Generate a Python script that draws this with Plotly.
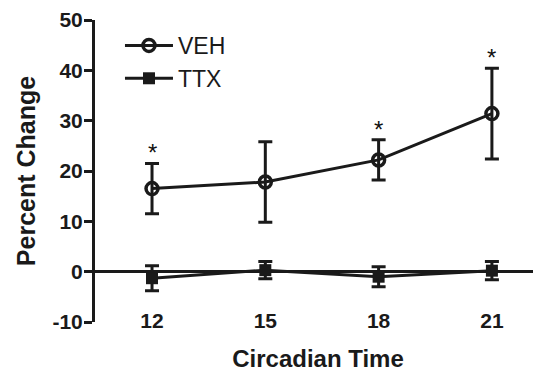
import plotly.graph_objects as go

ct = [12, 15, 18, 21]
veh = [16.5, 17.8, 22.2, 31.4]
veh_err = [5.0, 8.0, 4.0, 9.0]
ttx = [-1.3, 0.3, -1.0, 0.2]
ttx_err = [2.5, 1.7, 2.0, 1.8]
sig_x = [12, 18, 21]
sig_y = [21.5, 26.2, 40.4]
y_ticks = [-10, 0, 10, 20, 30, 40, 50]
y_ticktext = ["-10", "0", "10", "20", "30", "40", "50"]

ink = "#1a1a1a"
fig = go.Figure()
fig.add_trace(go.Scatter(
    x=ct, y=ttx, name="TTX", mode="lines+markers", legendrank=2,
    line=dict(color=ink, width=3),
    marker=dict(symbol="square", size=12, color=ink),
    error_y=dict(type="data", array=ttx_err, color=ink, thickness=3, width=7),
))
fig.add_trace(go.Scatter(
    x=ct, y=veh, name="VEH", mode="lines+markers", legendrank=1,
    line=dict(color=ink, width=3),
    marker=dict(symbol="circle-open", size=12, color=ink, line=dict(width=3.5, color=ink)),
    error_y=dict(type="data", array=veh_err, color=ink, thickness=3, width=7),
))

for xs, ys in zip(sig_x, sig_y):
    fig.add_annotation(x=xs, y=ys, text="*", showarrow=False, yanchor="bottom", yshift=-5,
                       font=dict(size=24, color="#111", family="Liberation Sans"))

fig.update_layout(
    width=533, height=364,
    margin=dict(l=87, r=0, t=12, b=50),
    paper_bgcolor="white", plot_bgcolor="white",
    font=dict(family="Liberation Sans, Arial, sans-serif", color=ink),
    showlegend=True,
    legend=dict(x=0.056, y=0.987, xanchor="left", yanchor="top", traceorder="normal",
                font=dict(size=23, color=ink), bgcolor="rgba(0,0,0,0)", itemwidth=48),
    xaxis=dict(range=[10.49, 22.3], tickvals=ct, ticktext=[str(v) for v in ct],
               showgrid=False, zeroline=False, showline=False, ticks="", automargin=False,
               ticklabelstandoff=-16,
               tickfont=dict(size=21, family="Liberation Sans", weight="bold"),
               title=dict(text="<b>Circadian Time</b>", font=dict(size=24), standoff=21)),
    yaxis=dict(range=[-10, 50], tickvals=y_ticks, ticktext=y_ticktext, showgrid=False,
               zeroline=True, zerolinecolor=ink, zerolinewidth=3, automargin=False,
               showline=True, linecolor=ink, linewidth=3, ticklabelstandoff=-3,
               ticks="outside", ticklen=8, tickwidth=3, tickcolor=ink,
               tickfont=dict(size=21, family="Liberation Sans", weight="bold"),
               title=dict(text="<b>Percent Change</b>", font=dict(size=25), standoff=10)),
)

fig.write_html("out.html")
